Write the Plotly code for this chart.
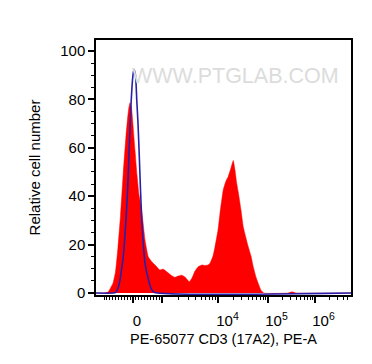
import numpy as np
import plotly.graph_objects as go

# Display channel scale (0..1020) of the biexponential FL axis
red_x = [0, 32, 48, 56, 68, 78, 88, 98, 109, 120, 130, 136, 142, 148, 156, 164, 172, 180, 188, 196,
         209, 224, 240, 256, 268, 284, 300, 316, 328, 343, 356, 373, 384, 396, 409, 424, 436, 448,
         456, 468, 476, 488, 496, 509, 520, 529, 540, 549, 556, 562, 569, 580, 589, 600, 609, 620,
         629, 640, 649, 660, 672, 768, 784, 800, 1020]
red_y = [0, 0, 0.4, 1.7, 4.1, 8.7, 19, 32, 49.6, 65, 75.6, 78.6, 76.4, 69.4, 59, 48.8, 40.5, 36.4,
         29.3, 21.9, 15, 12.8, 11.2, 9.5, 9.9, 8.7, 7.4, 6.5, 7, 7.4, 6.6, 4.7, 6.2, 9.1, 10.9, 11.6,
         11.4, 11.6, 12.3, 15.3, 19.1, 26, 33, 42.6, 46.3, 48.1, 51.7, 54.7, 50.8, 45.9, 41.7, 34.3,
         27.4, 22.7, 19.1, 15.3, 10.9, 6.6, 4, 1.2, 0, 0, 0.5, 0, 0]

blue_x = [0, 68, 80, 88, 96, 103, 109, 116, 123, 129, 134, 140, 146, 151, 158, 163, 168, 173,
          178, 183, 190, 197, 210, 221, 234, 1020]
blue_y = [0, 0, 0.4, 2, 5.4, 10.3, 15, 24, 35.7, 48.8, 63.2, 77.7, 88, 92.4, 90, 79.8, 70.1, 57,
          42.6, 30.2, 19.1, 11.6, 5.4, 1.7, 0.2, 0]

# axis decades (data values) and display anchors
anchor_log = [3, 4, 5, 6, 7]
anchor_disp = [264, 488, 688, 876, 1064]
lin_zero, lin_1000 = 148, 264

x_major_vals = [0, 1e3, 1e4, 1e5, 1e6]
x_label_text = ["0", "10<sup>4</sup>", "10<sup>5</sup>", "10<sup>6</sup>"]
x_label_pos = [164, 526, 722, 910]

y_major = [0, 20, 40, 60, 80, 100]


def disp(v):
    if abs(v) <= 1000:
        return lin_zero + v * (lin_1000 - lin_zero) / 1000.0
    return float(np.interp(np.log10(v), anchor_log, anchor_disp))


minor_vals = [-1000 + 100 * i for i in range(10)] + [100 * i for i in range(1, 10)]
for dec in [1e3, 1e4, 1e5, 1e6]:
    minor_vals += [k * dec for k in range(2, 10)]
minor_pos = [disp(v) for v in minor_vals if 0 <= disp(v) <= 1020]
major_pos = [disp(v) for v in x_major_vals]

fig = go.Figure()
fig.add_trace(go.Scatter(x=red_x, y=red_y, mode="lines", fill="tozeroy",
                         fillcolor="#ff0000", line=dict(color="#ff0000", width=0.5, shape="spline", smoothing=0.4),
                         hoverinfo="skip", showlegend=False))
fig.add_trace(go.Scatter(x=blue_x, y=blue_y, mode="lines",
                         line=dict(color="#2a1fa8", width=1.6, shape="spline", smoothing=0.5),
                         hoverinfo="skip", showlegend=False))
fig.add_trace(go.Scatter(x=[0], y=[-5], xaxis="x2", mode="markers",
                         marker=dict(opacity=0), hoverinfo="skip", showlegend=False))

font = "Liberation Sans, Arial, sans-serif"
fig.update_layout(
    width=372, height=364,
    margin=dict(l=88, r=29, t=32, b=77, autoexpand=False),
    paper_bgcolor="white", plot_bgcolor="white",
    font=dict(family=font, size=15, color="black"),
    xaxis=dict(range=[0, 1020], showgrid=False, zeroline=False, automargin=False,
               showline=True, linecolor="black", linewidth=1.5, mirror=True,
               tickmode="array", tickvals=major_pos, showticklabels=False,
               ticks="outside", ticklen=6, tickwidth=1.5, tickcolor="black",
               minor=dict(tickmode="array", tickvals=minor_pos, ticks="outside",
                          ticklen=3, tickwidth=1, tickcolor="black")),
    xaxis2=dict(range=[0, 1020], overlaying="x", anchor="y", side="bottom", automargin=False,
                showgrid=False, zeroline=False, showline=False,
                tickmode="array", tickvals=x_label_pos, ticktext=x_label_text,
                ticks="outside", ticklen=12, tickcolor="rgba(0,0,0,0)",
                tickfont=dict(size=15, family=font),
                title=dict(text="PE-65077 CD3 (17A2), PE-A", font=dict(size=14.5, family=font), standoff=5)),
    yaxis=dict(range=[-0.8, 104.5], showgrid=False, zeroline=False, automargin=False,
               showline=True, linecolor="black", linewidth=1.5, mirror=True,
               tickmode="array", tickvals=y_major,
               ticks="outside", ticklen=6, tickwidth=1.5, tickcolor="black",
               minor=dict(dtick=5, ticks="outside", ticklen=3, tickwidth=1, tickcolor="black"),
               tickfont=dict(size=15, family=font),
               title=dict(text="Relative cell number", font=dict(size=15, family=font), standoff=16)),
    annotations=[dict(text="WWW.PTGLAB.COM", x=0.549, y=0.915, xref="paper", yref="paper",
                      showarrow=False, font=dict(size=21.5, color="#dcdcdc", family=font))],
)

fig.write_html("out.html")
